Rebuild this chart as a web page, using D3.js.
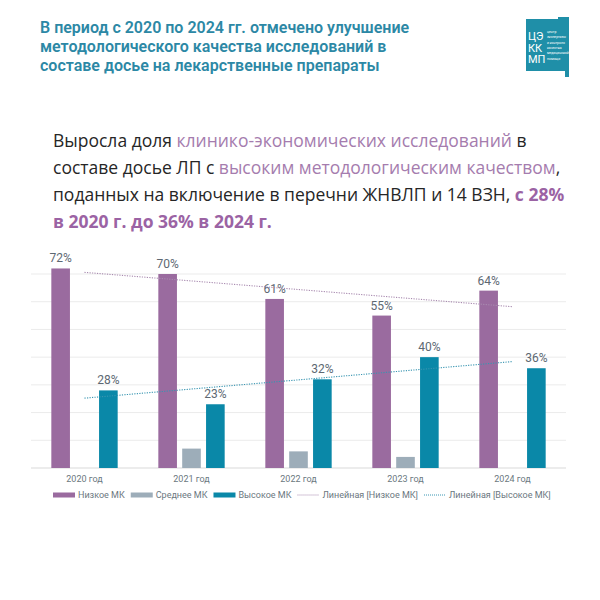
<!DOCTYPE html>
<html>
<head>
<meta charset="utf-8">
<script src="https://cdn.jsdelivr.net/npm/d3@7"></script>
<style>
  body { margin: 0; background: #fff; }
  svg { display: block; }
</style>
</head>
<body>
<div id="chart"></div>
<script>
// данные с графика
const years = ["2020 год", "2021 год", "2022 год", "2023 год", "2024 год"];
const lowMK = [72, 70, 61, 55, 64];
const midMK = [0, 7, 6, 4, 0];
const highMK = [28, 23, 32, 40, 36];
const yTicks = [0, 10, 20, 30, 40, 50, 60, 70];
const legendLabels = ["Низкое МК", "Среднее МК", "Высокое МК", "Линейная [Низкое МК]", "Линейная [Высокое МК]"];

const titleLines = [
    "В период с 2020 по 2024 гг. отмечено улучшение",
    "методологического качества исследований в",
    "составе досье на лекарственные препараты"
];

const width = 600, height = 600;
const purple = "#9a6b9f", grey = "#9dadb9", teal = "#0a88a8";
const labelColor = "#5d6872";

let svg = d3.select("#chart")
    .append("svg")
    .attr("width", width)
    .attr("height", height);

// заголовок
svg.append("g").selectAll("text")
    .data(titleLines)
    .enter()
    .append("text")
    .attr("x", 40)
    .attr("y", (d, i) => 33 + i * 19)
    .attr("fill", "#2c88a5")
    .style("font", "600 16px Roboto")
    .text(d => d);

// логотип
let logo = svg.append("g").attr("class", "logo");
logo.append("path")
    .attr("d", "M526,19 L558,19 L558,17 L569,17 L569,77 L565,77 L565,71 L526,71 Z")
    .attr("fill", "#1f8fa8");
logo.selectAll("text.big")
    .data(["ЦЭ", "КК", "МП"])
    .enter()
    .append("text")
    .attr("class", "big")
    .attr("x", 528)
    .attr("y", (d, i) => 40 + i * 11.5)
    .attr("fill", "#fff")
    .style("font", "400 11px Roboto")
    .text(d => d);
logo.selectAll("text.small")
    .data(["центр", "экспертизы", "и контроля", "качества", "медицинской", "помощи"])
    .enter()
    .append("text")
    .attr("class", "small")
    .attr("x", 547)
    .attr("y", (d, i) => 33 + i * 5.3)
    .attr("fill", "#fff")
    .style("font", "3.4px Roboto")
    .text(d => d);

// подзаголовок
const para = [
    [["Выросла доля ", 0], ["клинико-экономических исследований", 1], [" в", 0]],
    [["составе досье ЛП с ", 0], ["высоким методологическим качеством", 1], [",", 0]],
    [["поданных на включение в перечни ЖНВЛП и 14 ВЗН, ", 0], ["с 28%", 2]],
    [["в 2020 г. до 36% в 2024 г.", 2]]
];
para.forEach(function (line, i) {
    let t = svg.append("text")
        .attr("x", 53)
        .attr("y", 147 + i * 27)
        .style("font-family", "'Open Sans'")
        .style("font-size", "17.5px");
    line.forEach(function (part) {
        t.append("tspan")
            .attr("fill", part[1] == 0 ? "#262626" : (part[1] == 1 ? "#a57cae" : "#9b63a4"))
            .attr("font-weight", part[1] == 2 ? 700 : 400)
            .text(part[0]);
    });
});

// график
const x = d3.scaleBand()
    .domain(years)
    .range([31, 566])
    .padding(0);

const xSub = d3.scaleBand()
    .domain(["low", "mid", "high"])
    .range([x.bandwidth() * 0.19, x.bandwidth() * 0.81])
    .paddingInner(0.22);

const y = d3.scaleLinear()
    .domain([0, 70])
    .range([468, 274]);

let chart = svg.append("g").attr("class", "chart");

chart.selectAll("line.grid")
    .data(yTicks)
    .enter()
    .append("line")
    .attr("class", "grid")
    .attr("x1", x.range()[0])
    .attr("x2", x.range()[1])
    .attr("y1", d => y(d))
    .attr("y2", d => y(d))
    .attr("stroke", d => d == 0 ? "#d9d9d9" : "#ebebeb")
    .attr("stroke-width", 1);

const series = [
    { key: "low", values: lowMK, color: purple, label: true },
    { key: "mid", values: midMK, color: grey, label: false },
    { key: "high", values: highMK, color: teal, label: true }
];

series.forEach(function (s) {
    let g = chart.append("g");
    g.selectAll("rect")
        .data(s.values)
        .enter()
        .append("rect")
        .attr("x", (d, i) => x(years[i]) + xSub(s.key))
        .attr("y", d => y(d))
        .attr("width", xSub.bandwidth())
        .attr("height", d => y(0) - y(d))
        .attr("fill", s.color);
    if (s.label) {
        g.selectAll("text")
            .data(s.values)
            .enter()
            .append("text")
            .attr("x", (d, i) => x(years[i]) + xSub(s.key) + xSub.bandwidth() / 2)
            .attr("y", d => y(d) - 6)
            .attr("text-anchor", "middle")
            .attr("fill", labelColor)
            .style("font", "12px Roboto")
            .text(d => d + "%");
    }
});

// линейные тренды
let linFit = function (vals) {
    let n = vals.length, mx = (n - 1) / 2, my = d3.mean(vals);
    let num = d3.sum(vals, (v, i) => (i - mx) * (v - my));
    let den = d3.sum(vals, (v, i) => (i - mx) * (i - mx));
    let k = num / den;
    return vals.map((v, i) => my + k * (i - mx));
};

let trendLine = d3.line()
    .x((d, i) => x(years[i]) + x.bandwidth() / 2)
    .y(d => y(d));

[[lowMK, "#a98bb0"], [highMK, "#3895b1"]].forEach(function (p) {
    chart.append("path")
        .attr("d", trendLine(linFit(p[0])))
        .attr("fill", "none")
        .attr("stroke", p[1])
        .attr("stroke-width", 1.1)
        .attr("stroke-dasharray", "1.2,1.3");
});

// подписи оси X
chart.selectAll("text.xlab")
    .data(years)
    .enter()
    .append("text")
    .attr("class", "xlab")
    .attr("x", d => x(d) + x.bandwidth() / 2)
    .attr("y", 482)
    .attr("text-anchor", "middle")
    .attr("fill", "#6b7780")
    .style("font", "9px Roboto")
    .text(d => d);

// легенда
const legendItems = [
    { label: legendLabels[0], color: purple, type: "rect" },
    { label: legendLabels[1], color: grey, type: "rect" },
    { label: legendLabels[2], color: teal, type: "rect" },
    { label: legendLabels[3], color: "#a98bb0", type: "line" },
    { label: legendLabels[4], color: "#3895b1", type: "line" }
];
let lx = 53;
const ly = 495;
let legend = svg.append("g").attr("class", "legend");
legendItems.forEach(function (item) {
    if (item.type == "rect") {
        legend.append("rect")
            .attr("x", lx).attr("y", ly - 2.5)
            .attr("width", 22).attr("height", 5)
            .attr("fill", item.color);
    } else {
        legend.append("line")
            .attr("x1", lx).attr("x2", lx + 22)
            .attr("y1", ly).attr("y2", ly)
            .attr("stroke", item.color)
            .attr("stroke-width", 1)
            .attr("stroke-dasharray", "1,1");
    }
    let t = legend.append("text")
        .attr("x", lx + 25)
        .attr("y", ly + 3)
        .attr("fill", "#6b7780")
        .style("font", "9px Roboto")
        .text(item.label);
    lx += 25 + t.node().getComputedTextLength() + 6;
});
</script>
</body>
</html>
